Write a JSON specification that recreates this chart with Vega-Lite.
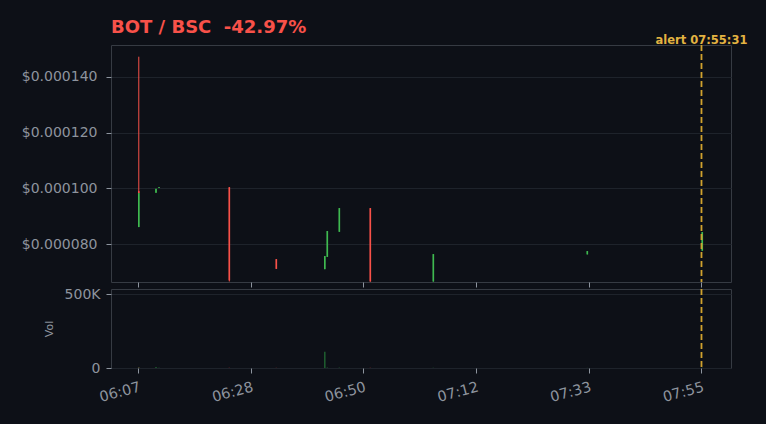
{
  "$schema": "https://vega.github.io/schema/vega-lite/v6.json",
  "background": "#0d1017",
  "padding": {"left": 20, "top": 18, "right": 30, "bottom": 30},
  "spacing": -2,
  "config": {
    "font": "DejaVu Sans",
    "view": {"stroke": "#363b43", "fill": "#0d1017", "strokeWidth": 1},
    "axis": {
      "labelColor": "#8d949e",
      "tickColor": "#8d949e",
      "domain": false,
      "gridColor": "#1e232b",
      "labelFont": "DejaVu Sans",
      "labelFontSize": 14,
      "titleColor": "#8d949e",
      "titleFont": "DejaVu Sans",
      "tickSize": 5
    }
  },
  "datasets": {
    "candles": [
      {"t": "2024-01-01T06:07:10", "open": 0.0000990, "high": 0.0001472, "low": 0.0000983, "close": 0.0000983, "volume": 3000},
      {"t": "2024-01-01T06:07:10", "open": 0.0000861, "high": 0.0000983, "low": 0.0000861, "close": 0.0000983, "volume": 4000},
      {"t": "2024-01-01T06:10:29", "open": 0.0000984, "high": 0.0000998, "low": 0.0000984, "close": 0.0000998, "volume": 6000},
      {"t": "2024-01-01T06:11:04", "open": 0.0001001, "high": 0.0001004, "low": 0.0001001, "close": 0.0001004, "volume": 1000},
      {"t": "2024-01-01T06:24:36", "open": 0.0001004, "high": 0.0001004, "low": 0.0000666, "close": 0.0000670, "volume": 2000},
      {"t": "2024-01-01T06:33:39", "open": 0.0000746, "high": 0.0000746, "low": 0.0000711, "close": 0.0000711, "volume": 1500},
      {"t": "2024-01-01T06:42:59", "open": 0.0000710, "high": 0.0000757, "low": 0.0000710, "close": 0.0000757, "volume": 110000},
      {"t": "2024-01-01T06:43:28", "open": 0.0000754, "high": 0.0000847, "low": 0.0000754, "close": 0.0000847, "volume": 3000},
      {"t": "2024-01-01T06:45:47", "open": 0.0000844, "high": 0.0000929, "low": 0.0000844, "close": 0.0000929, "volume": 2500},
      {"t": "2024-01-01T06:51:45", "open": 0.0000929, "high": 0.0000929, "low": 0.0000665, "close": 0.0000666, "volume": 2000},
      {"t": "2024-01-01T07:03:53", "open": 0.0000666, "high": 0.0000764, "low": 0.0000665, "close": 0.0000764, "volume": 1500},
      {"t": "2024-01-01T07:33:32", "open": 0.0000763, "high": 0.0000775, "low": 0.0000763, "close": 0.0000775, "volume": 800},
      {"t": "2024-01-01T07:55:40", "open": 0.0000776, "high": 0.0000843, "low": 0.0000776, "close": 0.0000843, "volume": 1800}
    ],
    "alert": [
      {"t": "2024-01-01T07:55:31", "label": "alert 07:55:31"}
    ]
  },
  "vconcat": [
    {
      "width": 620,
      "height": 237,
      "title": {
        "text": "BOT / BSC\u00a0\u00a0-42.97%",
        "anchor": "start",
        "frame": "group",
        "color": "#f85149",
        "fontSize": 18,
        "fontWeight": "bold",
        "font": "DejaVu Sans",
        "offset": -2
      },
      "layer": [
        {
          "data": {"name": "candles"},
          "mark": {"type": "rule", "strokeWidth": 1},
          "encoding": {
            "x": {
              "field": "t",
              "type": "temporal",
              "scale": {
                "padding": 0,
                "domain": [
                  {"year": 2024, "month": 1, "date": 1, "hours": 6, "minutes": 1, "seconds": 49},
                  {"year": 2024, "month": 1, "date": 1, "hours": 8, "minutes": 1, "seconds": 12}
                ]
              },
              "axis": {
                "values": [
                  {"year": 2024, "month": 1, "date": 1, "hours": 6, "minutes": 7, "seconds": 1},
                  {"year": 2024, "month": 1, "date": 1, "hours": 6, "minutes": 28, "seconds": 43},
                  {"year": 2024, "month": 1, "date": 1, "hours": 6, "minutes": 50, "seconds": 25},
                  {"year": 2024, "month": 1, "date": 1, "hours": 7, "minutes": 12, "seconds": 7},
                  {"year": 2024, "month": 1, "date": 1, "hours": 7, "minutes": 33, "seconds": 49},
                  {"year": 2024, "month": 1, "date": 1, "hours": 7, "minutes": 55, "seconds": 31}
                ],
                "labels": false,
                "grid": false,
                "title": null
              }
            },
            "y": {
              "field": "low",
              "type": "quantitative",
              "scale": {"domain": [0.0000664, 0.0001514], "nice": false, "zero": false, "padding": 0},
              "axis": {
                "values": [0.00008, 0.0001, 0.00012, 0.00014],
                "format": "$.6f",
                "title": null,
                "grid": true,
                "labelPadding": 9
              }
            },
            "y2": {"field": "high"},
            "color": {
              "condition": {"test": "datum.close >= datum.open", "value": "#3fb950"},
              "value": "#f85149"
            }
          }
        },
        {
          "data": {"name": "candles"},
          "mark": {"type": "bar", "size": 1.6},
          "encoding": {
            "x": {"field": "t", "type": "temporal"},
            "y": {"field": "open", "type": "quantitative"},
            "y2": {"field": "close"},
            "color": {
              "condition": {"test": "datum.close >= datum.open", "value": "#3fb950"},
              "value": "#f85149"
            }
          }
        },
        {
          "data": {"name": "alert"},
          "mark": {"type": "rule", "color": "#d0a22e", "strokeWidth": 1.8, "strokeDash": [6, 3]},
          "encoding": {
            "x": {"field": "t", "type": "temporal"}
          }
        },
        {
          "data": {"name": "alert"},
          "mark": {
            "type": "text",
            "color": "#e3b341",
            "fontSize": 11.5,
            "fontWeight": "bold",
            "font": "DejaVu Sans",
            "align": "center",
            "baseline": "alphabetic",
            "dy": -1,
            "clip": false
          },
          "encoding": {
            "x": {"field": "t", "type": "temporal"},
            "y": {"datum": 0.0001514, "type": "quantitative"},
            "text": {"field": "label"}
          }
        }
      ]
    },
    {
      "width": 620,
      "height": 79,
      "layer": [
        {
          "data": {"name": "candles"},
          "mark": {"type": "bar", "size": 1.5, "opacity": 0.55},
          "encoding": {
            "x": {
              "field": "t",
              "type": "temporal",
              "scale": {
                "padding": 0,
                "domain": [
                  {"year": 2024, "month": 1, "date": 1, "hours": 6, "minutes": 1, "seconds": 49},
                  {"year": 2024, "month": 1, "date": 1, "hours": 8, "minutes": 1, "seconds": 12}
                ]
              },
              "axis": {
                "values": [
                  {"year": 2024, "month": 1, "date": 1, "hours": 6, "minutes": 7, "seconds": 1},
                  {"year": 2024, "month": 1, "date": 1, "hours": 6, "minutes": 28, "seconds": 43},
                  {"year": 2024, "month": 1, "date": 1, "hours": 6, "minutes": 50, "seconds": 25},
                  {"year": 2024, "month": 1, "date": 1, "hours": 7, "minutes": 12, "seconds": 7},
                  {"year": 2024, "month": 1, "date": 1, "hours": 7, "minutes": 33, "seconds": 49},
                  {"year": 2024, "month": 1, "date": 1, "hours": 7, "minutes": 55, "seconds": 31}
                ],
                "format": "%H:%M",
                "labelAngle": -15,
                "labelAlign": "right",
                "labelBaseline": "top",
                "labelPadding": 7,
                "labelFontSize": 14.5,
                "grid": false,
                "title": null
              }
            },
            "y": {
              "field": "volume",
              "type": "quantitative",
              "scale": {"domain": [0, 534000], "nice": false, "padding": 0},
              "axis": {
                "values": [0, 500000],
                "labelExpr": "datum.value == 0 ? '0' : format(datum.value / 1000, 'd') + 'K'",
                "title": "Vol",
                "titleFontSize": 11,
                "titleFontWeight": "normal",
                "titlePadding": 10,
                "grid": true,
                "labelPadding": 6
              }
            },
            "color": {
              "condition": {"test": "datum.close >= datum.open", "value": "#2ea043"},
              "value": "#da3633"
            }
          }
        },
        {
          "data": {"name": "alert"},
          "mark": {"type": "rule", "color": "#d0a22e", "strokeWidth": 1.8, "strokeDash": [6, 3]},
          "encoding": {
            "x": {"field": "t", "type": "temporal"}
          }
        }
      ]
    }
  ]
}
